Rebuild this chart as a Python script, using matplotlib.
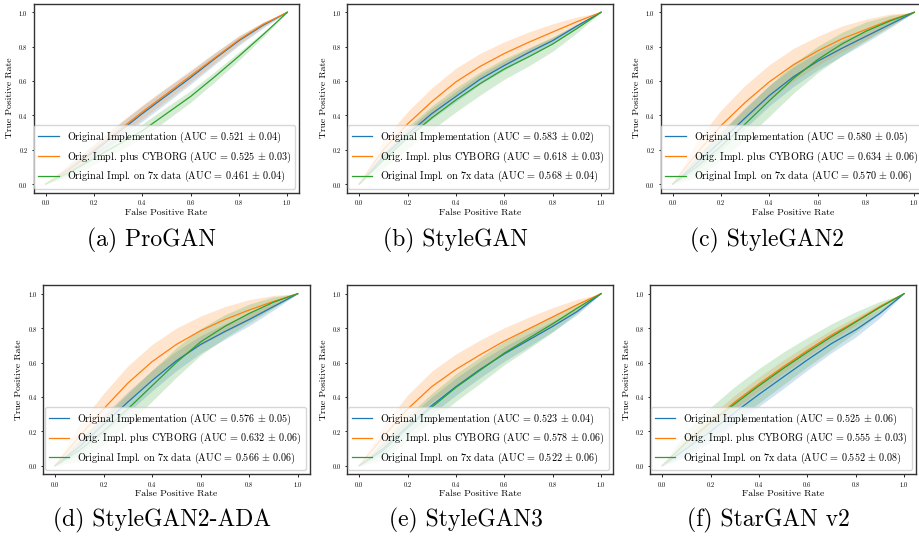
import numpy as np
import matplotlib
matplotlib.use("Agg")
import matplotlib.pyplot as plt

plt.rcParams["font.family"] = ["cmr10", "DejaVu Serif"]
plt.rcParams["mathtext.fontset"] = "cm"
plt.rcParams["axes.formatter.use_mathtext"] = True

# ROC curves: mean TPR and std at each FPR, one inner list per GAN
fpr = [0.0, 0.1, 0.2, 0.3, 0.4, 0.5, 0.6, 0.7, 0.8, 0.9, 1.0]
captions = ["(a) ProGAN", "(b) StyleGAN", "(c) StyleGAN2",
            "(d) StyleGAN2-ADA", "(e) StyleGAN3", "(f) StarGAN v2"]

tpr_orig = [
    [0, 0.09, 0.19, 0.30, 0.41, 0.515, 0.62, 0.73, 0.835, 0.925, 1],
    [0, 0.16, 0.29, 0.41, 0.51, 0.61, 0.69, 0.765, 0.835, 0.92, 1],
    [0, 0.12, 0.25, 0.385, 0.515, 0.625, 0.715, 0.79, 0.86, 0.93, 1],
    [0, 0.11, 0.24, 0.37, 0.495, 0.61, 0.705, 0.78, 0.85, 0.925, 1],
    [0, 0.10, 0.23, 0.35, 0.46, 0.56, 0.65, 0.73, 0.81, 0.895, 1],
    [0, 0.10, 0.20, 0.31, 0.415, 0.515, 0.615, 0.71, 0.79, 0.885, 1],
]
std_orig = [
    [0, 0.03, 0.04, 0.045, 0.045, 0.043, 0.038, 0.034, 0.027, 0.016, 0],
    [0, 0.021, 0.027, 0.03, 0.03, 0.029, 0.026, 0.023, 0.018, 0.011, 0],
    [0, 0.042, 0.054, 0.06, 0.06, 0.057, 0.051, 0.045, 0.036, 0.021, 0],
    [0, 0.042, 0.054, 0.06, 0.06, 0.057, 0.051, 0.045, 0.036, 0.021, 0],
    [0, 0.035, 0.045, 0.05, 0.05, 0.048, 0.043, 0.038, 0.03, 0.018, 0],
    [0, 0.049, 0.063, 0.07, 0.07, 0.067, 0.06, 0.053, 0.042, 0.025, 0],
]
tpr_cyborg = [
    [0, 0.09, 0.20, 0.31, 0.42, 0.525, 0.63, 0.735, 0.84, 0.93, 1],
    [0, 0.20, 0.35, 0.48, 0.595, 0.685, 0.76, 0.825, 0.885, 0.945, 1],
    [0, 0.18, 0.34, 0.475, 0.595, 0.695, 0.775, 0.845, 0.90, 0.955, 1],
    [0, 0.17, 0.33, 0.48, 0.605, 0.705, 0.785, 0.85, 0.905, 0.955, 1],
    [0, 0.17, 0.33, 0.46, 0.56, 0.645, 0.725, 0.795, 0.865, 0.935, 1],
    [0, 0.14, 0.255, 0.37, 0.475, 0.575, 0.67, 0.76, 0.84, 0.925, 1],
]
std_cyborg = [
    [0, 0.028, 0.036, 0.04, 0.04, 0.038, 0.034, 0.03, 0.024, 0.014, 0],
    [0, 0.056, 0.072, 0.08, 0.08, 0.076, 0.068, 0.06, 0.048, 0.028, 0],
    [0, 0.07, 0.09, 0.1, 0.1, 0.095, 0.085, 0.075, 0.06, 0.035, 0],
    [0, 0.07, 0.09, 0.1, 0.1, 0.095, 0.085, 0.075, 0.06, 0.035, 0],
    [0, 0.063, 0.081, 0.09, 0.09, 0.086, 0.077, 0.068, 0.054, 0.032, 0],
    [0, 0.028, 0.036, 0.04, 0.04, 0.038, 0.034, 0.03, 0.024, 0.014, 0],
]
tpr_7x = [
    [0, 0.07, 0.15, 0.23, 0.31, 0.41, 0.51, 0.625, 0.745, 0.87, 1],
    [0, 0.14, 0.27, 0.385, 0.49, 0.585, 0.67, 0.74, 0.815, 0.905, 1],
    [0, 0.10, 0.22, 0.35, 0.485, 0.615, 0.725, 0.815, 0.89, 0.95, 1],
    [0, 0.09, 0.20, 0.33, 0.465, 0.60, 0.72, 0.81, 0.885, 0.95, 1],
    [0, 0.09, 0.22, 0.34, 0.455, 0.555, 0.655, 0.74, 0.825, 0.915, 1],
    [0, 0.135, 0.25, 0.36, 0.465, 0.565, 0.66, 0.75, 0.835, 0.92, 1],
]
std_7x = [
    [0, 0.028, 0.036, 0.04, 0.04, 0.038, 0.034, 0.03, 0.024, 0.014, 0],
    [0, 0.049, 0.063, 0.07, 0.07, 0.067, 0.06, 0.053, 0.042, 0.025, 0],
    [0, 0.063, 0.081, 0.09, 0.09, 0.086, 0.077, 0.068, 0.054, 0.032, 0],
    [0, 0.063, 0.081, 0.09, 0.09, 0.086, 0.077, 0.068, 0.054, 0.032, 0],
    [0, 0.056, 0.072, 0.08, 0.08, 0.076, 0.068, 0.06, 0.048, 0.028, 0],
    [0, 0.07, 0.09, 0.1, 0.1, 0.095, 0.085, 0.075, 0.06, 0.035, 0],
]

auc_orig = [0.521, 0.583, 0.580, 0.576, 0.523, 0.525]
auc_orig_sd = [0.04, 0.02, 0.05, 0.05, 0.04, 0.06]
auc_cyborg = [0.525, 0.618, 0.634, 0.632, 0.578, 0.555]
auc_cyborg_sd = [0.03, 0.03, 0.06, 0.06, 0.06, 0.03]
auc_7x = [0.461, 0.568, 0.570, 0.566, 0.522, 0.552]
auc_7x_sd = [0.04, 0.04, 0.06, 0.06, 0.06, 0.08]

names = ["Original Implementation", "Orig. Impl. plus CYBORG", "Original Impl. on 7x data"]
colors = ["C0", "C1", "C2"]

W, H = 920, 544
# axes boxes in pixels: left, top, right, bottom
boxes = [
    (33.6, 3.7, 299.4, 192.6),
    (347.2, 3.7, 613.1, 192.6),
    (660.6, 3.7, 926.4, 192.6),
    (42.9, 285.1, 309.8, 474.3),
    (347.2, 285.1, 613.1, 474.3),
    (650.2, 285.1, 916.1, 474.3),
]
caption_xy = [(152, 240), (455, 240), (767, 240), (162, 520), (466, 520), (768, 520)]

fig = plt.figure(figsize=(W / 100, H / 100), dpi=100)

for i in range(6):
    l, t, r, b = boxes[i]
    ax = fig.add_axes([l / W, 1 - b / H, (r - l) / W, (b - t) / H])
    series = [
        (tpr_orig[i], std_orig[i], auc_orig[i], auc_orig_sd[i]),
        (tpr_cyborg[i], std_cyborg[i], auc_cyborg[i], auc_cyborg_sd[i]),
        (tpr_7x[i], std_7x[i], auc_7x[i], auc_7x_sd[i]),
    ]
    for (tpr, sd, auc, auc_sd), name, col in zip(series, names, colors):
        tpr = np.array(tpr)
        sd = np.array(sd)
        ax.plot(fpr, tpr, color=col, lw=0.9,
                label=f"{name} (AUC = {auc:.3f} $\\pm$ {auc_sd:.2f})")
        ax.fill_between(fpr, np.maximum(tpr - sd, 0), np.minimum(tpr + sd, 1),
                        color=col, alpha=0.2, lw=0)
    ax.set_xlim(-0.05, 1.05)
    ax.set_ylim(-0.05, 1.05)
    ax.set_xticks([0.0, 0.2, 0.4, 0.6, 0.8, 1.0])
    ax.set_yticks([0.0, 0.2, 0.4, 0.6, 0.8, 1.0])
    ax.tick_params(labelsize=4.6, length=1.8, width=0.6, pad=2)
    for sp in ax.spines.values():
        sp.set_linewidth(1.0)
        sp.set_color("#333333")
    ax.set_xlabel("False Positive Rate", fontsize=7, labelpad=1)
    ax.set_ylabel("True Positive Rate", fontsize=7, labelpad=3)
    ax.legend(loc="lower right", fontsize=7.3, handlelength=2.0,
              borderaxespad=0.4, labelspacing=0.45)

    cx, cy = caption_xy[i]
    fig.text(cx / W, 1 - cy / H, captions[i], fontsize=17, ha="center", va="center")

fig.savefig("out.png", dpi=100)
